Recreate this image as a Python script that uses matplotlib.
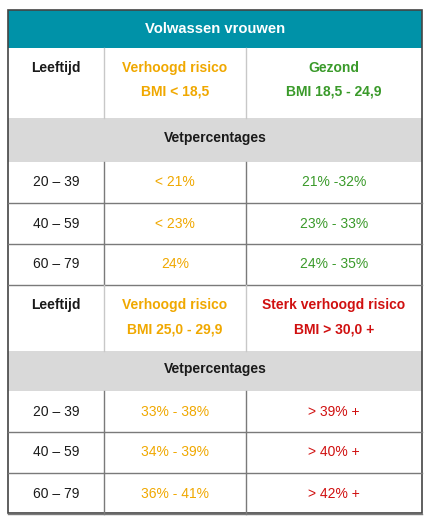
import matplotlib
matplotlib.use("Agg")
import matplotlib.pyplot as plt
from matplotlib.patches import Rectangle

plt.rcParams['font.family'] = ['Liberation Sans', 'DejaVu Sans']

title = "Volwassen vrouwen"
ages = ["20 – 39", "40 – 59", "60 – 79"]
head1 = [("Verhoogd risico", "BMI < 18,5"), ("Gezond", "BMI 18,5 - 24,9")]
vals1 = [["< 21%", "< 23%", "24%"], ["21% -32%", "23% - 33%", "24% - 35%"]]
head2 = [("Verhoogd risico", "BMI 25,0 - 29,9"), ("Sterk verhoogd risico", "BMI > 30,0 +")]
vals2 = [["33% - 38%", "34% - 39%", "36% - 41%"], ["> 39% +", "> 40% +", "> 42% +"]]
colors1 = ["#f0a800", "#3a9a2a"]
colors2 = ["#f0a800", "#d01010"]

TEAL = "#0092a8"; GREY = "#d9d9d9"; LINE = "#7a7a7a"; LIGHT = "#c8c8c8"; TXT = "#1a1a1a"

fig = plt.figure(figsize=(4.30, 5.23), dpi=100)
ax = fig.add_axes([0, 0, 1, 1])
ax.set_xlim(0, 430); ax.set_ylim(523, 0); ax.axis('off')

L, R = 8, 422
cx = [8, 104, 246, 422]
fs = 10

def rect(x0, y0, x1, y1, fc):
    ax.add_patch(Rectangle((x0, y0), x1 - x0, y1 - y0, fc=fc, ec='none'))

def hline(y, x0=L, x1=R, c=LINE):
    ax.plot([x0, x1], [y, y], color=c, lw=1)

def vline(x, y0, y1, c=LINE):
    ax.plot([x, x], [y0, y1], color=c, lw=1)

rect(L, 10, R, 48, TEAL)
ax.text((L + R) / 2, 29, title, color='white', fontsize=10.6, fontweight='bold', ha='center', va='center')

def block(y0, heads, cols, vals):
    hy1 = y0 + (70 if y0 < 100 else 66)
    vline(cx[1], y0, hy1, LIGHT); vline(cx[2], y0, hy1, LIGHT)
    ax.text((cx[0] + cx[1]) / 2, y0 + 20, "Leeftijd", color=TXT, fontsize=fs, fontweight='bold', ha='center', va='center')
    for i, (a, b) in enumerate(heads):
        xm = (cx[i + 1] + cx[i + 2]) / 2
        ax.text(xm, y0 + 20, a, color=cols[i], fontsize=fs, fontweight='bold', ha='center', va='center')
        ax.text(xm, y0 + 44, b, color=cols[i], fontsize=fs, fontweight='bold', ha='center', va='center')
    gy1 = hy1 + (44 if y0 < 100 else 40)
    rect(L, hy1, R, gy1, GREY)
    ax.text((L + R) / 2, (hy1 + gy1) / 2 - 2, "Vetpercentages", color=TXT, fontsize=fs, fontweight='bold', ha='center', va='center')
    y = gy1
    rh = 41
    for r, age in enumerate(ages):
        vline(cx[1], y, y + rh); vline(cx[2], y, y + rh)
        ax.text((cx[0] + cx[1]) / 2, y + rh / 2, age, color=TXT, fontsize=fs, ha='center', va='center')
        for i in range(2):
            ax.text((cx[i + 1] + cx[i + 2]) / 2, y + rh / 2, vals[i][r], color=cols[i], fontsize=fs, ha='center', va='center')
        y += rh
        hline(y)
    return y

y = block(48, head1, colors1, vals1)
block(y, head2, colors2, vals2)

ax.add_patch(Rectangle((L, 10), R - L, 503, fc='none', ec="#444444", lw=1.2))
fig.savefig("out.png", dpi=100)
